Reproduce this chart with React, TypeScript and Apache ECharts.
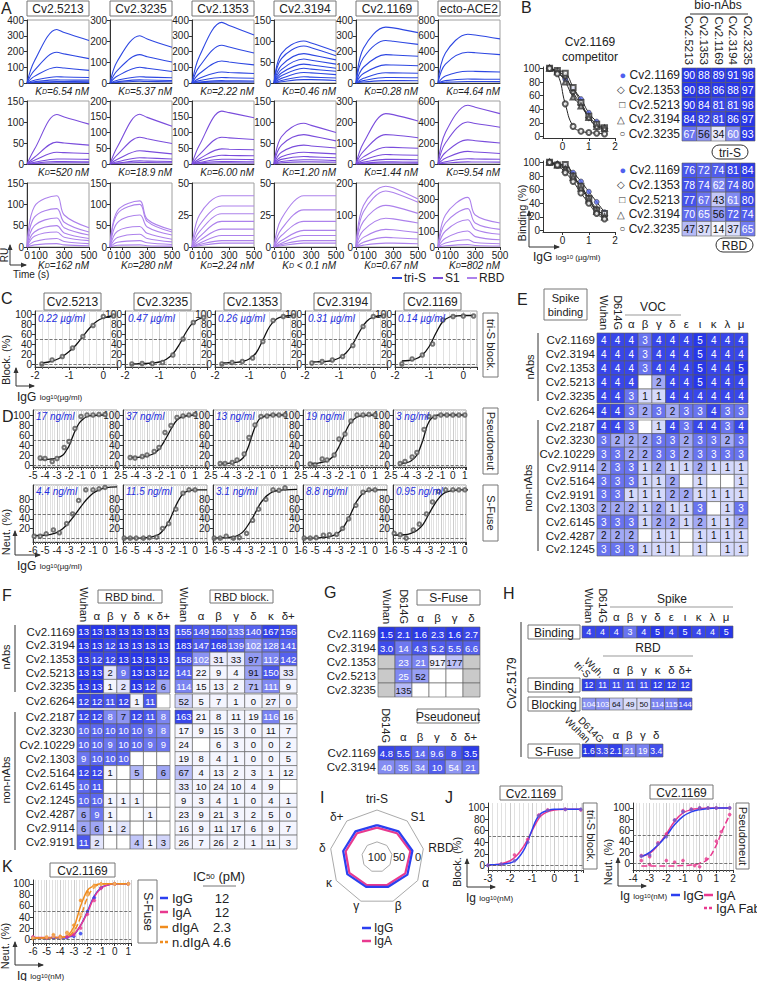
import React, { useEffect, useRef } from "react";
import * as echarts from "echarts";

const FONT = "'Liberation Sans', Arial, Helvetica, sans-serif";
const NA = -1;
const BLUE = "#2b3ff0";
const PINK = "#e8398f";
const ORANGE = "#f08c1e";

// ---------------- Panel A (SPR) ----------------
const sprTitles = ["Cv2.5213", "Cv2.3235", "Cv2.1353", "Cv2.3194", "Cv2.1169", "ecto-ACE2"];
const sprStart = 0;
const sprTimes = [0, 60, 240, 300, 500];
const sprTimeTicks = [0, 100, 300, 500];
const sprYMax = [[400, 300, 400, 150, 400, 800], [150, 200, 200, 150, 300, 600], [150, 150, 50, 50, 200, 400]];
const sprYStep = [[100, 100, 100, 50, 100, 200], [50, 50, 50, 50, 100, 200], [50, 50, 25, 25, 100, 100]];
const kdTriS = ["=6.54 nM", "=5.37 nM", "=2.22 nM", "=0.46 nM", "=0.28 nM", "=4.64 nM"];
const kdS1 = ["=520 nM", "=18.9 nM", "=6.00 nM", "=1.20 nM", "=1.44 nM", "=9.54 nM"];
const kdRBD = ["=162 nM", "=280 nM", "=2.24 nM", " < 0.1 nM", "=0.67 nM", "=802 nM"];
// each curve: RU at t = 60, 240, 300, 500 s
const sprTriS = [
  [[140, 340, 320, 270], [80, 195, 185, 155], [42, 100, 95, 80], [17, 40, 38, 35], [8, 20, 19, 18], [4, 10, 9, 8], [2, 5, 5, 4]],
  [[105, 225, 210, 170], [60, 135, 125, 100], [33, 75, 70, 55], [13, 30, 28, 25], [6, 15, 14, 12], [3, 8, 7, 6]],
  [[170, 385, 365, 305], [105, 240, 228, 190], [60, 140, 133, 115], [30, 70, 67, 60], [15, 35, 33, 30], [6, 15, 14, 13], [3, 7, 7, 6]],
  [[70, 100, 95, 75], [58, 88, 84, 65], [42, 70, 67, 55], [32, 57, 54, 45], [24, 45, 43, 35], [17, 35, 33, 28], [11, 25, 24, 20], [6, 15, 14, 12], [3, 8, 8, 6]],
  [[220, 355, 350, 320], [160, 270, 265, 245], [100, 180, 178, 170], [60, 115, 114, 110], [30, 65, 64, 62], [15, 35, 35, 33], [6, 15, 15, 14]],
  [[380, 620, 610, 560], [240, 390, 385, 360], [90, 150, 148, 140], [30, 50, 49, 48], [10, 20, 20, 18]],
];
const sprS1 = [
  [[35, 118, 112, 95], [16, 52, 50, 45], [9, 28, 27, 25], [4, 12, 12, 11], [2, 6, 6, 5], [1, 3, 3, 3]],
  [[55, 158, 148, 120], [30, 85, 80, 65], [15, 42, 40, 32], [7, 20, 19, 16], [3, 10, 9, 8], [2, 5, 5, 4]],
  [[60, 168, 163, 147], [30, 85, 83, 78], [17, 48, 47, 45], [10, 28, 27, 26], [5, 15, 15, 14], [3, 8, 8, 7], [1, 4, 4, 3]],
  [[65, 97, 92, 75], [45, 70, 67, 55], [28, 45, 43, 38], [17, 28, 27, 24], [11, 18, 17, 15], [6, 10, 10, 8], [3, 5, 5, 4]],
  [[100, 240, 235, 205], [60, 140, 138, 125], [34, 80, 79, 75], [19, 45, 44, 42], [9, 22, 22, 20], [4, 10, 10, 9], [2, 5, 5, 4]],
  [[300, 560, 540, 480], [200, 400, 385, 350], [110, 230, 222, 200], [55, 120, 115, 100], [22, 50, 48, 45], [8, 20, 19, 18]],
];
const sprRBD = [
  [[95, 120, 75, 45], [70, 90, 58, 35], [50, 68, 45, 28], [35, 50, 33, 20], [25, 35, 23, 15], [13, 20, 13, 8], [5, 8, 5, 3]],
  [[85, 108, 65, 40], [78, 100, 60, 35], [57, 75, 47, 28], [37, 48, 32, 18], [22, 30, 20, 12], [11, 15, 10, 6], [4, 5, 3, 2]],
  [[25, 40, 40, 40], [17, 32, 32, 32], [12, 26, 26, 26], [8, 20, 20, 20], [5, 14, 14, 14], [3, 9, 9, 9], [2, 5, 5, 5], [1, 3, 3, 3]],
  [[22, 40, 40, 40], [14, 29, 29, 29], [9, 20, 20, 20], [5, 13, 13, 13], [3, 9, 9, 9], [2, 5, 5, 5], [1, 3, 3, 3]],
  [[130, 190, 185, 150], [110, 175, 170, 140], [80, 130, 127, 105], [52, 90, 88, 75], [30, 55, 54, 45], [15, 30, 29, 25], [6, 12, 12, 10]],
  [[200, 310, 200, 150], [150, 240, 150, 110], [100, 170, 110, 80], [55, 100, 65, 45], [25, 45, 28, 20], [8, 15, 9, 6]],
];

// ---------------- Panel B ----------------
const bX = [-0.5, -0.2, 0.1, 0.4, 0.7, 1.0, 1.3, 1.6];
const bCompetitors = ["Cv2.1169", "Cv2.1353", "Cv2.5213", "Cv2.3194", "Cv2.3235"];
const bSymbolsText = ["●", "◇", "□", "△", "○"];
const bSymbols = ["circle", "emptyDiamond", "emptyRect", "emptyTriangle", "emptyCircle"];
const bTriSCurves = [
  [100, 93, 84, 70, 55, 35, 22, 12], [100, 95, 88, 65, 47, 28, 15, 12], [100, 97, 93, 72, 50, 30, 18, 13],
  [100, 95, 80, 58, 45, 28, 15, 12], [100, 92, 48, 15, 8, 6, 5, 4],
];
const bRBDCurves = [
  [100, 98, 95, 85, 72, 57, 42, 27], [100, 97, 93, 80, 65, 48, 32, 22], [100, 96, 97, 80, 65, 47, 30, 25],
  [100, 96, 90, 78, 62, 45, 28, 20], [100, 96, 85, 72, 55, 40, 25, 17],
];
const bHeatCols = ["Cv2.5213", "Cv2.1353", "Cv2.1169", "Cv2.3194", "Cv2.3235"];
const bHeatTriS = [[90, 88, 89, 91, 98], [90, 88, 86, 88, 97], [90, 84, 81, 81, 98], [84, 82, 81, 86, 97], [67, 56, 34, 60, 93]];
const bHeatRBD = [[76, 72, 74, 81, 84], [78, 74, 62, 74, 80], [77, 67, 43, 61, 80], [70, 65, 56, 72, 74], [47, 37, 14, 37, 65]];

// ---------------- Panel C ----------------
const cTitles = ["Cv2.5213", "Cv2.3235", "Cv2.1353", "Cv2.3194", "Cv2.1169"];
const cIC50 = ["0.22 µg/ml", "0.47 µg/ml", "0.26 µg/ml", "0.31 µg/ml", "0.14 µg/ml"];
const cDoseX = [-1.8, -1.5, -1.2, -0.9, -0.6, -0.3, 0, 0.3];
const cPoints = [
  [0, 8, 15, 32, 55, 77, 95, 96], [0, 1, 1, 3, 18, 50, 83, 93], [0, 3, 5, 12, 45, 87, 95, 96],
  [2, 5, 8, 15, 37, 75, 95, 96], [0, 10, 18, 40, 88, 95, 96, 96],
];
const cFitX = [-1.8, -1.6, -1.4, -1.2, -1.0, -0.8, -0.6, -0.4, -0.2, 0, 0.3];
const cFit = [
  [2, 4, 8, 15, 25, 38, 55, 72, 85, 92, 97], [0, 0.5, 1, 2, 4, 9, 20, 40, 65, 83, 94], [2, 2.5, 3, 5, 10, 22, 48, 75, 90, 95, 97],
  [4, 4.5, 5, 7, 12, 22, 40, 65, 85, 94, 97], [6, 7, 10, 18, 35, 62, 85, 94, 96, 97, 97],
];

// ---------------- Panel D ----------------
const dIC50Top = ["17 ng/ml", "37 ng/ml", "13 ng/ml", "19 ng/ml", "3 ng/ml"];
const dIC50Bot = ["4.4 ng/ml", "11.5 ng/ml", "3.1 ng/ml", "8.8 ng/ml", "0.95 ng/ml"];
const dTopX = [-4.4, -4.0, -3.4, -3.0, -2.4, -2.0, -1.5, -1.0, -0.5, 0, 0.5, 1.0];
const dTopPts = [
  [14, 13, 7, 13, 35, 47, 73, 97, 100, 100, 101, 101], [15, 14, 17, 20, 27, 35, 65, 79, 95, 98, 100, 101],
  [3, 3, 5, 10, 22, 55, 80, 97, 98, 100, 100, 100], [2, 0, 12, 10, 20, 52, 62, 88, 100, 100, 101, 100],
  [3, 7, 16, 25, 71, 97, 96, 100, 100, 100, 100, 100],
];
const dTopFitX = [-4.4, -4, -3.5, -3, -2.5, -2.2, -2, -1.8, -1.5, -1.2, -1, -0.5, 0, 1];
const dTopFit = [
  [11, 11, 12, 14, 20, 30, 38, 50, 68, 82, 88, 97, 99, 100], [15, 15, 16, 18, 22, 27, 32, 38, 50, 63, 72, 90, 97, 100],
  [3, 3, 4, 6, 14, 28, 40, 55, 76, 90, 94, 99, 100, 100], [3, 3, 5, 8, 17, 28, 37, 47, 64, 79, 86, 96, 99, 100],
  [3, 4, 8, 20, 50, 75, 86, 93, 98, 100, 100, 100, 100, 100],
];
const dBotX = [-5.9, -5.4, -4.9, -4.3, -3.8, -3.2, -2.7, -2.2, -1.6, -1.0, -0.5, 0];
const dBotPts = [
  [4, 4, 9, 17, 11, 30, 50, 78, 100, 100, 102, 105], [0, 0, 0, 0, 1, 2, 20, 30, 60, 93, 100, 100],
  [0, 0, 4, 0, 1, 10, 37, 60, 80, 100, 99, 104], [0, 0, 1, 6, 7, 8, 20, 40, 68, 95, 100, 100],
  [10, 7, 0, 17, 29, 50, 75, 97, 100, 100, 100, 100],
];
const dBotFitX = [-6, -5, -4.5, -4, -3.5, -3, -2.7, -2.4, -2.1, -1.8, -1.5, -1, -0.5, 0, 1];
const dBotFit = [
  [5, 6, 8, 12, 20, 33, 42, 52, 62, 72, 81, 93, 100, 104, 106], [0, 0, 0, 1, 3, 8, 15, 25, 38, 55, 72, 92, 98, 100, 100],
  [0, 1, 2, 5, 13, 30, 42, 56, 70, 80, 88, 96, 99, 100, 101], [0, 0, 1, 2, 5, 12, 20, 32, 46, 62, 77, 93, 99, 100, 100],
  [6, 7, 10, 16, 28, 50, 63, 75, 85, 92, 96, 99, 100, 100, 100],
];

// ---------------- Panel E ----------------
const eCols = ["Wuhan", "D614G", "α", "β", "γ", "δ", "ε", "ι", "κ", "λ", "μ"];
const eRowsNAbs = ["Cv2.1169", "Cv2.3194", "Cv2.1353", "Cv2.5213", "Cv2.3235"];
const eRowsMid = ["Cv2.6264"];
const eRowsNon = ["Cv2.2187", "Cv2.3230", "Cv2.10229", "Cv2.9114", "Cv2.5164", "Cv2.9191", "Cv2.1303", "Cv2.6145", "Cv2.4287", "Cv2.1245"];
const eNAbs = [
  [4, 4, 4, 3, 4, 4, 4, 5, 4, 4, 4], [4, 4, 4, 3, 4, 4, 4, 5, 4, 4, 4], [4, 4, 4, 3, 4, 4, 4, 5, 4, 4, 5],
  [4, 4, 4, null, 2, 4, 4, 5, 4, 4, 4], [4, 4, 3, 1, 1, 4, 4, 4, 4, 4, 4],
];
const eMid = [[4, 4, 3, 2, 3, 2, 3, 3, 4, 3, 3]];
const eNon = [
  [4, 4, 3, null, 1, 4, 3, 4, 4, 3, 4], [3, 2, 2, 2, 3, 3, 2, 3, 3, 2, 3], [3, 3, 2, 2, 3, 3, 2, 3, 3, 3, 3],
  [2, 3, 3, 1, 2, 1, 1, 2, 1, 1, 1], [3, 3, 3, 1, 1, 2, null, 1, null, null, 1], [3, 3, 1, 1, 1, 2, 2, 1, 1, 1, 1],
  [2, 2, 2, 1, 2, 1, 1, 3, null, 1, 3], [3, 3, 3, 1, 2, 2, 1, 2, 1, 1, 2], [2, 2, 2, null, 1, 1, null, 1, 1, 1, 1],
  [3, 3, 3, 1, 1, 1, null, 1, null, 1, 1],
];

// ---------------- Panel F ----------------
const fCols = ["Wuhan", "α", "β", "γ", "δ", "κ", "δ+"];
const fRowsNAbs = ["Cv2.1169", "Cv2.3194", "Cv2.1353", "Cv2.5213", "Cv2.3235"];
const fRowsMid = ["Cv2.6264"];
const fRowsNon = ["Cv2.2187", "Cv2.3230", "Cv2.10229", "Cv2.1303", "Cv2.5164", "Cv2.6145", "Cv2.1245", "Cv2.4287", "Cv2.9114", "Cv2.9191"];
const fBindNAbs = [
  [13, 13, 13, 13, 13, 13, 13], [13, 13, 12, 13, 13, 13, 13], [13, 12, 12, 13, 13, 13, 13],
  [13, 13, 2, 9, 13, 13, 12], [13, 13, 1, 2, 13, 12, 6],
];
const fBindMid = [[12, 12, 11, 12, 1, 11, null]];
const fBindNon = [
  [12, 12, 8, 7, 12, 11, 8], [10, 10, 10, 10, 10, 9, 8], [10, 10, 9, 10, 10, 9, 9], [9, 10, 10, 10, null, null, null],
  [12, 12, 1, null, 5, null, 6], [10, 11, null, null, null, null, null], [10, 10, 1, 1, 1, null, null],
  [6, 9, 1, null, null, 1, null], [6, 6, 1, 2, null, null, null], [11, 2, null, null, 4, 1, 3],
];
const fBlockNAbs = [
  [155, 149, 150, 133, 140, 167, 156], [183, 147, 168, 139, 102, 128, 141], [158, 102, 31, 33, 97, 112, 142],
  [141, 22, 9, 4, 91, 150, 33], [114, 15, 13, 2, 71, 111, 9],
];
const fBlockMid = [[52, 5, 7, 1, 0, 27, 0]];
const fBlockNon = [
  [163, 21, 8, 11, 19, 116, 16], [17, 9, 15, 3, 0, 11, 7], [24, null, 6, 3, 0, 0, 2], [19, 8, 4, 1, 0, 0, 5],
  [67, 4, 13, 2, 3, 1, 12], [33, 10, 24, 10, 4, 9, null], [9, 3, 4, 1, 0, 4, 1], [23, 9, 21, 3, 2, 5, 0],
  [16, 9, 11, 17, 6, 9, 7], [26, 7, 26, 2, 1, 11, 3],
];

// ---------------- Panel G ----------------
const gSCols = ["Wuhan", "D614G", "α", "β", "γ", "δ"];
const gSRows = ["Cv2.1169", "Cv2.3194", "Cv2.1353", "Cv2.5213", "Cv2.3235"];
const gSFuse = [
  [1.5, 2.1, 1.6, 2.3, 1.6, 2.7], [3.0, 14, 4.3, 5.2, 5.5, 6.6], [NA, 23, 21, 917, 177, NA],
  [NA, 25, 52, null, null, NA], [NA, 135, null, null, null, NA],
];
const gPCols = ["D614G", "α", "β", "γ", "δ", "δ+"];
const gPRows = ["Cv2.1169", "Cv2.3194"];
const gPseudo = [[4.8, 5.5, 14, 9.6, 8, 3.5], [40, 35, 34, 10, 54, 21]];

// ---------------- Panel H ----------------
const hSpikeCols = ["Wuhan", "D614G", "α", "β", "γ", "δ", "ε", "ι", "κ", "λ", "μ"];
const hSpike = [[4, 4, 4, 3, 4, 5, 4, 5, 4, 4, 5]];
const hRbdCols = ["tri-S", "Wuh.", "α", "β", "γ", "κ", "δ", "δ+"];
const hRbdBind = [[12, 11, 11, 11, 11, 12, 12, 12]];
const hRbdBlock = [[104, 103, 64, 49, 50, 114, 115, 144]];
const hSCols = ["Wuhan", "D614G", "α", "β", "γ", "δ"];
const hSFuse = [[1.6, 3.3, 2.1, 21, 19, 3.4]];

// ---------------- Panel I ----------------
const radarAxes = ["tri-S", "S1", "RBD", "α", "β", "γ", "κ", "δ", "δ+"];
const radarIgG = [22, 18, 12, 14, 22, 22, 16, 16, 18];
const radarIgA = [28, 24, 17, 20, 27, 27, 22, 22, 24];
const radarInner = [63, 63, 63, 63, 63, 63, 63, 63, 63];

// ---------------- Panel J ----------------
const jLeftX = [-3, -2.5, -2, -1.7, -1.4, -1.2, -1, -0.8, -0.6, -0.3, 0, 0.5, 1.2];
const jLeftIgG = [1, 1.5, 4, 10, 25, 42, 62, 80, 90, 95, 97, 97, 97];
const jLeftIgA = [1, 2, 8, 17, 32, 45, 60, 75, 86, 93, 96, 97, 97];
const jLeftPtsX = [-3, -2.4, -1.8, -1.2, -0.7, -0.3, 0.5, 1.2];
const jLeftPtsIgG = [0, 2, 8, 40, 86, 95, 97, 97];
const jLeftPtsIgA = [0, 2, 18, 45, 87, 96, 97, 96];
const jRightX = [-3.5, -3, -2.5, -2, -1.5, -1, -0.5, 0, 0.5, 1, 1.8];
const jRightIgG = [12, 20, 33, 50, 70, 85, 93, 97, 99, 100, 100];
const jRightIgA = [13, 18, 33, 53, 76, 91, 97, 99, 100, 100, 100];
const jRightFabX = [-3.5, -2, -1, -0.5, 0, 0.5, 1, 1.3, 1.6, 1.8];
const jRightFab = [-5, -5, -4, -3, 0, 8, 33, 55, 75, 87];
const jRightPtsIgG = [13, 15, 35, 48, 78, 93, 97, 100, 100, 100, 100];
const jRightPtsIgA = [14, 12, 37, 53, 78, 95, 98, 100, 100, 100, 100];
const jRightPtsFabX = [-3.5, -3, -2, -1.5, -1, -0.3, 0, 0.4, 1, 1.3, 1.8];
const jRightPtsFab = [5, -2, 5, 2, 5, -4, -6, 8, 40, 57, 88];

// ---------------- Panel K ----------------
const kX = [-6, -4, -3.5, -3, -2.5, -2, -1.5, -1, -0.5, 0, 1];
const kIgG = [2, 2, 3, 8, 25, 50, 78, 93, 98, 100, 100];
const kIgA = [3, 3, 4, 9, 25, 48, 76, 92, 98, 100, 100];
const kdIgA = [2, 3, 6, 22, 60, 88, 97, 100, 100, 100, 100];
const knIgA = [2, 3, 5, 14, 40, 75, 94, 99, 100, 100, 100];
const kPtsX = [-6, -5, -4.5, -4, -3.5, -3, -2.5, -2, -1.5, -1, 0, 1];
const kPtsIgG = [3, 2, 3, 2, 3, 5, 10, 50, 75, 93, 100, 100];
const kPtsIgA = [4, 2, 5, 3, 4, 8, 20, 45, 70, 92, 100, 100];
const kPtsD = [1, 3, 8, 5, 12, 25, 70, 85, 97, 100, 100, 100];
const kPtsN = [2, 4, 5, 2, 10, 15, 45, 80, 95, 99, 100, 100];
const kLegend = ["IgG", "IgA", "dIgA", "n.dIgA"];
const kIC50 = ["12", "12", "2.3", "4.6"];

// ---------------- helpers ----------------
const HI = [40, 55, 232];
const LO = [244, 245, 254];
function blend(t: number) {
  t = Math.max(0, Math.min(1, t));
  const c = HI.map((h, i) => Math.round(LO[i] + (h - LO[i]) * t));
  return `rgb(${c.join(",")})`;
}
const logT = (v: number, best: number, worst: number) => 1 - Math.log10(v / best) / Math.log10(worst / best);
const eLevel = [0, 0.15, 0.4, 0.68, 0.92, 1];

function buildOption(): any {
  const grid: any[] = [];
  const xAxis: any[] = [];
  const yAxis: any[] = [];
  const series: any[] = [];
  const graphic: any[] = [];

  const addGrid = (left: number, top: number, width: number, height: number, extra: any = {}) => {
    grid.push({ left, top, width, height, containLabel: false, backgroundColor: "transparent", ...extra });
    return grid.length - 1;
  };

  function plot(o: any) {
    const g = addGrid(o.left, o.top, o.width, o.height, o.frame ? { show: true, borderColor: "#a0a0a0", borderWidth: 1 } : {});
    const xi = xAxis.length;
    const yi = yAxis.length;
    const xc = o.xCustom ? { customValues: o.xCustom } : {};
    const yc = o.yCustom ? { customValues: o.yCustom } : {};
    xAxis.push({
      type: "value", gridIndex: g, min: o.xmin, max: o.xmax, interval: o.xInterval,
      axisLine: { show: true, onZero: false, lineStyle: { color: "#333", width: 1 } },
      axisTick: { show: o.xTicks !== false, length: 3, lineStyle: { color: "#333" }, ...xc },
      axisLabel: { show: o.xLabels !== false, fontSize: 10, color: "#222", margin: 3, fontFamily: FONT, showMaxLabel: o.showMaxX, ...xc },
      minorTick: { show: !!o.stripes, splitNumber: 5, length: 2, lineStyle: { color: "#666" } },
      splitLine: { show: !!o.stripes, lineStyle: { color: "#cdcdcd" } },
      minorSplitLine: { show: !!o.stripes, lineStyle: { color: "#e1e1e1" } },
    });
    yAxis.push({
      type: "value", gridIndex: g, min: o.ymin, max: o.ymax, interval: o.yInterval,
      axisLine: { show: true, onZero: false, lineStyle: { color: "#333", width: 1 } },
      axisTick: { show: true, length: 3, lineStyle: { color: "#333" }, ...yc },
      axisLabel: { show: true, fontSize: 10, color: "#222", margin: 3, fontFamily: FONT, ...yc },
      splitLine: { show: false },
    });
    return { xi, yi };
  }

  function line(ax: any, xs: number[], ys: number[], color: string, o: any = {}) {
    series.push({
      type: "line", xAxisIndex: ax.xi, yAxisIndex: ax.yi, data: xs.map((x, i) => [x, ys[i]]),
      smooth: o.smooth ?? 0.4, symbol: "none", silent: true, z: o.z ?? 3,
      lineStyle: { color, width: o.width ?? 1.2, type: o.dash ? "dashed" : "solid" },
      markLine: o.refs
        ? { silent: true, symbol: ["none", "none"], label: { show: false }, lineStyle: { type: "dashed", color: "#555", width: 0.8 }, data: o.refs.map((v: number) => ({ yAxis: v })) }
        : undefined,
    });
  }
  function pts(ax: any, xs: number[], ys: number[], o: any = {}) {
    series.push({
      type: "scatter", xAxisIndex: ax.xi, yAxisIndex: ax.yi, data: xs.map((x, i) => [x, ys[i]]),
      symbol: o.symbol ?? "emptyCircle", symbolSize: o.size ?? 3.5, silent: true, z: 4,
      itemStyle: { color: o.color ?? "#555", borderColor: o.border ?? o.color ?? "#555", borderWidth: o.bw ?? 0.7 },
    });
  }

  function heat(o: any) {
    const g = addGrid(o.left, o.top, o.width, o.height);
    const xi = xAxis.length;
    const rot: number[] = o.rotCols || [];
    const showCols = o.showCols !== false;
    xAxis.push({
      type: "category", gridIndex: g, data: o.cols, position: "top",
      axisLine: { show: false }, axisTick: { show: false }, splitLine: { show: false },
      axisLabel: { show: showCols, interval: 0, fontSize: o.colFont ?? 11, color: "#222", margin: 3, formatter: (v: string, i: number) => (rot.includes(i) ? "" : v) },
    });
    xAxis.push({
      type: "category", gridIndex: g, data: o.cols, position: "top",
      axisLine: { show: false }, axisTick: { show: false }, splitLine: { show: false },
      axisLabel: { show: showCols && rot.length > 0, interval: 0, rotate: o.rotAngle ?? 90, fontSize: o.rotFont ?? 11, color: "#222", margin: 3, formatter: (v: string, i: number) => (rot.includes(i) ? v : "") },
    });
    const yi = yAxis.length;
    yAxis.push({
      type: "category", gridIndex: g, data: o.rows, inverse: true,
      axisLine: { show: false }, axisTick: { show: false }, splitLine: { show: false },
      axisLabel: { show: o.showRows !== false, interval: 0, fontSize: o.rowFont ?? 11.5, color: "#222", margin: 2, formatter: o.rowFmt, rich: o.rowRich },
    });
    const fmt = o.fmt || ((v: number) => String(v));
    const cells: any[] = [];
    o.data.forEach((row: (number | null)[], r: number) =>
      row.forEach((v, c) => {
        if (v === null) cells.push({ c, r, v: 0, fill: "#ffffff", text: "", tc: "#111" });
        else if (v === NA) cells.push({ c, r, v: 0, fill: "#c9c9c9", text: "", tc: "#111" });
        else {
          const t = o.tfn(v);
          cells.push({ c, r, v, fill: blend(t), text: fmt(v), tc: t > 0.5 ? "#fff" : "#111" });
        }
      })
    );
    const vf = o.valFont ?? 9;
    series.push({
      type: "custom", xAxisIndex: xi, yAxisIndex: yi, silent: true, z: 3,
      data: cells.map((k) => [k.c, k.r, k.v]),
      renderItem: (params: any, api: any) => {
        const k = cells[params.dataIndex];
        const p = api.coord([api.value(0), api.value(1)]);
        const s = api.size([1, 1]);
        return {
          type: "rect",
          shape: { x: p[0] - s[0] / 2, y: p[1] - s[1] / 2, width: s[0], height: s[1] },
          style: { fill: k.fill, stroke: "#5a5a5a", lineWidth: 0.6 },
          textContent: { style: { text: k.text, fill: k.tc, fontSize: vf, fontFamily: FONT } },
          textConfig: { position: "inside" },
        };
      },
    });
  }

  // graphic helpers
  const T = (x: number, y: number, text: string, o: any = {}) =>
    graphic.push({
      type: "text", x, y, rotation: o.rot || 0, silent: true, z: 50,
      style: {
        text, fontSize: o.size ?? 12, fontFamily: FONT, fill: o.color ?? "#222",
        fontStyle: o.italic ? "italic" : "normal", fontWeight: o.bold ? "bold" : "normal",
        align: o.align ?? "left", verticalAlign: o.va ?? "middle", textAlign: o.align ?? "left", textVerticalAlign: o.va ?? "middle",
        rich: o.rich,
      },
    });
  const R = (x: number, y: number, w: number, h: number, o: any = {}) =>
    graphic.push({ type: "rect", shape: { x, y, width: w, height: h, r: o.r ?? 0 }, silent: true, z: 49, style: { fill: o.fill ?? "none", stroke: o.stroke ?? "#777", lineWidth: o.lw ?? 1 } });
  const L = (x1: number, y1: number, x2: number, y2: number, o: any = {}) =>
    graphic.push({ type: "line", shape: { x1, y1, x2, y2 }, silent: true, z: 49, style: { stroke: o.color ?? "#333", lineWidth: o.lw ?? 1, lineDash: o.dash } });
  const box = (x: number, y: number, w: number, h: number, text: string, size = 12) => {
    R(x, y, w, h);
    T(x + w / 2, y + h / 2 + 0.5, text, { align: "center", size });
  };
  const vbox = (x: number, y: number, w: number, h: number, text: string, size = 12) => {
    R(x, y, w, h);
    T(x + w / 2 + 0.5, y + h / 2, text, { align: "center", size, rot: -Math.PI / 2 });
  };
  const arrows = (x0: number, y0: number, up: number, right: number) => {
    L(x0, y0, x0, y0 - up);
    L(x0, y0, x0 + right, y0);
    graphic.push({ type: "polygon", silent: true, z: 49, shape: { points: [[x0 - 2.5, y0 - up + 5], [x0 + 2.5, y0 - up + 5], [x0, y0 - up - 1]] }, style: { fill: "#333" } });
    graphic.push({ type: "polygon", silent: true, z: 49, shape: { points: [[x0 + right - 5, y0 - 2.5], [x0 + right - 5, y0 + 2.5], [x0 + right + 1, y0]] }, style: { fill: "#333" } });
  };
  const unitRich = { a: { fontSize: 12, fontFamily: FONT, fill: "#222" }, s: { fontSize: 8, fontFamily: FONT, fill: "#222" }, t: { fontSize: 6, fontFamily: FONT, fill: "#222" } };
  const kdRich = { k: { fontSize: 10, fontStyle: "italic", fontFamily: FONT, fill: "#222" }, d: { fontSize: 7, fontStyle: "italic", fontFamily: FONT, fill: "#222" } };

  // ---------- Panel letters ----------
  [["A", 1, 8], ["B", 521, 7], ["C", 1, 298], ["D", 2, 416], ["E", 517, 299], ["F", 2, 595], ["G", 324, 592], ["H", 503, 593], ["I", 320, 797], ["J", 445, 797], ["K", 2, 866]].forEach(
    ([l, x, y]: any) => T(x, y, l, { size: 16 })
  );

  // ---------- Panel A ----------
  const aLeft = [27, 110, 192, 274, 356, 438];
  const aTop = [20, 101, 183];
  const aH = [63, 63, 64];
  const aColors = ["#2d47e2", "#7a4ddc", "#ad82ec"];
  const aData = [sprTriS, sprS1, sprRBD];
  const aKD = [kdTriS, kdS1, kdRBD];
  sprTitles.forEach((t, i) => box(aLeft[i], 1, 62, 15, t, 12));
  for (let r = 0; r < 3; r++) {
    for (let c = 0; c < 6; c++) {
      const ax = plot({
        left: aLeft[c], top: aTop[r], width: 62, height: aH[r], frame: true,
        xmin: 0, xmax: 500, xCustom: sprTimeTicks, xLabels: r === 2, xTicks: r === 2,
        ymin: 0, ymax: sprYMax[r][c], yInterval: sprYStep[r][c],
      });
      aData[r][c].forEach((cv) => line(ax, sprTimes, [sprStart, ...cv], aColors[r], { smooth: 0.35, width: 1.1 }));
      const ky = aTop[r] + aH[r] + (r === 2 ? 18 : 8);
      T(aLeft[c] + 62, ky, `{k|K}{d|D}{k|${aKD[r][c]}}`, { align: "right", rich: kdRich });
    }
  }
  T(4, 255, "RU", { rot: Math.PI / 2, size: 10, align: "center" });
  arrows(10, 265, 20, 16);
  T(13, 274, "Time (s)", { size: 10 });
  L(392, 278, 402, 278, { color: aColors[0], lw: 2 });
  T(404, 278, "tri-S", { size: 12 });
  L(433, 278, 443, 278, { color: aColors[1], lw: 2 });
  T(445, 278, "S1", { size: 12 });
  L(467, 278, 477, 278, { color: aColors[2], lw: 2 });
  T(479, 278, "RBD", { size: 12 });

  // ---------- Panel B ----------
  T(590, 42, "Cv2.1169", { align: "center", size: 12 });
  T(590, 57, "competitor", { align: "center", size: 12 });
  const bTops = [67, 161];
  [bTriSCurves, bRBDCurves].forEach((curves, k) => {
    const ax = plot({ left: 543, top: bTops[k], width: 72, height: 71, xmin: -0.75, xmax: 2, xCustom: [0, 1, 2], ymin: -2, ymax: 102, yCustom: [0, 20, 40, 60, 80, 100] });
    curves.forEach((cv, i) => {
      line(ax, bX, cv, "#222", { smooth: 0.5, width: 1 });
      pts(ax, bX, cv, i === 0 ? { symbol: "circle", color: "#5566ee", border: "#333", size: 5 } : { symbol: bSymbols[i], color: "#333", size: 5 });
    });
  });
  T(522, 213, "Binding (%)", { rot: Math.PI / 2, size: 11, align: "center" });
  arrows(529, 247, 36, 30);
  T(533, 257, "{a|IgG }{s|log}{t|10}{s| (µg/ml)}", { rich: unitRich });
  T(718, 5, "bio-nAbs", { align: "center", size: 12 });
  L(690, 14, 748, 14);
  const bRich: any = { s0: { color: "#5060ee", fontSize: 11 } };
  [1, 2, 3, 4].forEach((i) => (bRich["s" + i] = { color: "#333", fontSize: 10 }));
  const bRowFmt = (v: string, i: number) => `{s${i}|${bSymbolsText[i]}} ${v}`;
  heat({ left: 682, top: 68, width: 73, height: 73, cols: bHeatCols, rotCols: [0, 1, 2, 3, 4], rows: bCompetitors, data: bHeatTriS, tfn: (v: number) => (v - 30) / 55, valFont: 10.5, rowFont: 12, rowFmt: bRowFmt, rowRich: bRich, rotFont: 11.5 });
  heat({ left: 682, top: 163, width: 73, height: 73, cols: bHeatCols, showCols: false, rows: bCompetitors, data: bHeatRBD, tfn: (v: number) => (v - 30) / 55, valFont: 10.5, rowFont: 12, rowFmt: bRowFmt, rowRich: bRich });
  R(712, 145, 36, 14, { r: 7, stroke: "#333" });
  T(730, 152.5, "tri-S", { align: "center", size: 12 });
  R(716, 238, 37, 14, { r: 7, stroke: "#333" });
  T(734.5, 245.5, "RBD", { align: "center", size: 12 });

  // ---------- Panel C ----------
  const cy = [0, 20, 40, 60, 80, 100];
  for (let i = 0; i < 5; i++) {
    const left = 35 + 90 * i;
    box(44 + 90 * i, 293, 57, 17, cTitles[i], 12);
    const ax = plot({ left, top: 311, width: 82, height: 56, frame: true, stripes: true, xmin: -2, xmax: 0.4, xInterval: 1, showMaxX: false, ymin: -6, ymax: 106, yCustom: cy });
    line(ax, cFitX, cFit[i], "#111", { smooth: 0.4, width: 1.3, refs: [50, 0] });
    pts(ax, cDoseX, cPoints[i]);
    T(left + 3, 318, cIC50[i], { italic: true, color: "#1f2fe0", size: 10 });
  }
  vbox(483, 313, 15, 64, "tri-S block.", 11);
  T(6, 360, "Block. (%)", { rot: Math.PI / 2, size: 11, align: "center" });
  arrows(16, 386, 18, 18);
  T(17, 397, "{a|IgG }{s|log}{t|10}{s|(µg/ml)}", { rich: unitRich });

  // ---------- Panel D ----------
  for (let i = 0; i < 5; i++) {
    const left = 33 + 90 * i;
    const last = i === 4;
    const axT = plot({ left, top: 410, width: last ? 73 : 84, height: 57, frame: true, stripes: true, xmin: -5, xmax: last ? 1.1 : 2, xInterval: 1, showMaxX: !last, ymin: -4, ymax: 110, yCustom: cy });
    line(axT, dTopFitX, dTopFit[i], "#111", { smooth: 0.4, width: 1.3, refs: [50, 0] });
    pts(axT, dTopX, dTopPts[i]);
    T(left + 3, 416, dIC50Top[i], { italic: true, color: "#1f2fe0", size: 10 });
    const axB = plot({ left, top: 485, width: last ? 73 : 84, height: 57, frame: true, stripes: true, xmin: -6, xmax: last ? 0.1 : 1, xInterval: 1, showMaxX: !last, ymin: -8, ymax: 110, yCustom: cy });
    line(axB, dBotFitX, dBotFit[i], "#111", { smooth: 0.4, width: 1.3, refs: [50, 0] });
    pts(axB, dBotX, dBotPts[i]);
    T(left + 3, 491, dIC50Bot[i], { italic: true, color: "#1f2fe0", size: 10 });
  }
  vbox(483, 408, 15, 66, "Pseudoneut", 11);
  vbox(483, 485, 15, 56, "S-Fuse", 11);
  T(6, 532, "Neut. (%)", { rot: Math.PI / 2, size: 11, align: "center" });
  arrows(15, 555, 24, 25);
  T(17, 566, "{a|IgG }{s|log}{t|10}{s|(µg/ml)}", { rich: unitRich });

  // ---------- Panel E ----------
  const tE = (v: number) => eLevel[v];
  heat({ left: 597, top: 333, width: 151, height: 70, cols: eCols, rotCols: [0, 1], rows: eRowsNAbs, data: eNAbs, tfn: tE, valFont: 10, rowFont: 11.5, colFont: 11.5 });
  heat({ left: 597, top: 404, width: 151, height: 14, cols: eCols, showCols: false, rows: eRowsMid, data: eMid, tfn: tE, valFont: 10, rowFont: 11.5 });
  heat({ left: 597, top: 420, width: 151, height: 136, cols: eCols, showCols: false, rows: eRowsNon, data: eNon, tfn: tE, valFont: 10, rowFont: 11.5 });
  R(544, 289, 43, 31);
  T(565.5, 298, "Spike", { align: "center", size: 11 });
  T(565.5, 312, "binding", { align: "center", size: 11 });
  T(653, 307, "VOC", { align: "center", size: 12 });
  L(625, 315, 681, 315, { color: "#999" });
  T(530, 367, "nAbs", { rot: Math.PI / 2, size: 11, align: "center" });
  L(538, 333, 538, 401);
  T(528, 488, "non-nAbs", { rot: Math.PI / 2, size: 11, align: "center" });
  L(538, 420, 538, 551);

  // ---------- Panel F ----------
  const tFb = (v: number) => (v - 1) / 12;
  const tFk = (v: number) => (v - 25) / 150;
  heat({ left: 77, top: 625, width: 93, height: 68, cols: fCols, rotCols: [0], rows: fRowsNAbs, data: fBindNAbs, tfn: tFb, valFont: 9.5, colFont: 11.5 });
  heat({ left: 77, top: 694, width: 93, height: 14, cols: fCols, showCols: false, rows: fRowsMid, data: fBindMid, tfn: tFb, valFont: 9.5 });
  heat({ left: 77, top: 710, width: 93, height: 139, cols: fCols, showCols: false, rows: fRowsNon, data: fBindNon, tfn: tFb, valFont: 9.5 });
  heat({ left: 175, top: 625, width: 122, height: 68, cols: fCols, rotCols: [0], rows: fRowsNAbs, showRows: false, data: fBlockNAbs, tfn: tFk, valFont: 9.5, colFont: 11.5 });
  heat({ left: 175, top: 694, width: 122, height: 14, cols: fCols, showCols: false, showRows: false, rows: fRowsMid, data: fBlockMid, tfn: tFk, valFont: 9.5 });
  heat({ left: 175, top: 710, width: 122, height: 139, cols: fCols, showCols: false, showRows: false, rows: fRowsNon, data: fBlockNon, tfn: tFk, valFont: 9.5 });
  box(98, 590, 64, 13, "RBD bind.", 11);
  box(210, 590, 63, 13, "RBD block.", 11);
  T(6, 657, "nAbs", { rot: Math.PI / 2, size: 11, align: "center" });
  L(15, 625, 15, 692);
  T(6, 780, "non-nAbs", { rot: Math.PI / 2, size: 11, align: "center" });
  L(15, 712, 15, 850);

  // ---------- Panel G ----------
  const dec = (v: number) => (v < 10 ? v.toFixed(1) : String(v));
  heat({ left: 378, top: 627, width: 102, height: 70, cols: gSCols, rotCols: [0, 1], rows: gSRows, data: gSFuse, tfn: (v: number) => logT(v, 1.5, 1000), fmt: dec, valFont: 9.5, colFont: 11.5 });
  heat({ left: 378, top: 746, width: 101, height: 28, cols: gPCols, rotCols: [0], rows: gPRows, data: gPseudo, tfn: (v: number) => logT(v, 3, 1000), valFont: 9.5, colFont: 11.5 });
  box(417, 590, 63, 15, "S-Fuse", 12);
  box(417, 709, 62, 14, "Pseudoneut", 12);

  // ---------- Panel H ----------
  heat({ left: 582, top: 626, width: 151, height: 12, cols: hSpikeCols, rotCols: [0, 1], rows: ["Binding"], showRows: false, data: hSpike, tfn: tE, valFont: 9, colFont: 11.5 });
  heat({ left: 582, top: 679, width: 110, height: 12, cols: hRbdCols, rotCols: [0, 1], rotAngle: 45, rotFont: 10, rows: ["Binding"], showRows: false, data: hRbdBind, tfn: (v: number) => v / 12.5, valFont: 8.5, colFont: 11.5 });
  heat({ left: 582, top: 698, width: 110, height: 12, cols: hRbdCols, showCols: false, rows: ["Blocking"], showRows: false, data: hRbdBlock, tfn: (v: number) => (v - 30) / 140, valFont: 8 });
  heat({ left: 582, top: 744, width: 81, height: 13, cols: hSCols, rotCols: [0, 1], rotAngle: 45, rotFont: 10, rows: ["S-Fuse"], showRows: false, data: hSFuse, tfn: (v: number) => logT(v, 1.5, 1000), fmt: dec, valFont: 8.5, colFont: 11.5 });
  T(672, 599, "Spike", { align: "center", size: 12 });
  L(610, 607, 733, 607, { color: "#999" });
  box(528, 625, 52, 14, "Binding", 12);
  T(648, 648, "RBD", { align: "center", size: 12 });
  L(603, 656, 693, 656, { color: "#999" });
  box(528, 678, 52, 14, "Binding", 12);
  box(528, 697, 52, 14, "Blocking", 12);
  box(528, 744, 52, 14, "S-Fuse", 12);
  T(512, 683, "Cv2.5179", { rot: Math.PI / 2, size: 12, align: "center" });
  L(521, 622, 521, 757);

  // ---------- Panel I (radar) ----------
  const order = [0, ...radarAxes.map((_, i) => i).slice(1).reverse()];
  const radar = [{
    center: [377, 857], radius: 47, startAngle: 90, splitNumber: 1, shape: "polygon",
    indicator: order.map((i) => ({ name: radarAxes[i], min: 0, max: 115 })),
    axisName: { color: "#222", fontSize: 12, fontFamily: FONT }, nameGap: 5,
    splitLine: { lineStyle: { color: "#aaa", width: 1 } }, splitArea: { show: false },
    axisLine: { show: false }, axisTick: { show: false }, axisLabel: { show: false },
  }];
  const inv = (arr: number[]) => order.map((i) => 100 - arr[i]);
  series.push({
    type: "radar", radarIndex: 0, silent: true, symbol: "none", z: 5,
    data: [
      { value: inv(radarInner), lineStyle: { color: "#aaa", width: 1 }, itemStyle: { color: "#aaa" } },
      { value: inv(radarIgA), lineStyle: { color: PINK, width: 2.2 }, itemStyle: { color: PINK } },
      { value: inv(radarIgG), lineStyle: { color: BLUE, width: 2.2 }, itemStyle: { color: BLUE } },
    ],
  });
  T(377, 857, "100", { align: "center", size: 11 });
  T(399, 857, "50", { align: "center", size: 11 });
  T(418, 857, "0", { align: "center", size: 11 });
  L(362, 928, 371, 928, { color: BLUE, lw: 2.5 });
  T(374, 928, "IgG", { size: 12 });
  L(362, 941, 371, 941, { color: PINK, lw: 2.5 });
  T(374, 941, "IgA", { size: 12 });

  // ---------- Panel J ----------
  const axJ1 = plot({ left: 488, top: 803, width: 95, height: 67, stripes: true, xmin: -3, xmax: 1.3, xInterval: 1, showMaxX: false, ymin: -8, ymax: 108, yCustom: cy });
  line(axJ1, jLeftX, jLeftIgA, PINK, { width: 1.5, refs: [50, 0] });
  line(axJ1, jLeftX, jLeftIgG, BLUE, { width: 1.5 });
  pts(axJ1, jLeftPtsX, jLeftPtsIgA, { symbol: "circle", color: PINK, size: 3 });
  pts(axJ1, jLeftPtsX, jLeftPtsIgG, { symbol: "circle", color: "#6a5acd", size: 3 });
  box(500, 786, 62, 14, "Cv2.1169", 12);
  vbox(583, 803, 14, 66, "tri-S block.", 11);
  T(457, 862, "Block. (%)", { rot: Math.PI / 2, size: 11, align: "center" });
  arrows(467, 887, 28, 28);
  T(466, 898, "{a|Ig }{s|log}{t|10}{s|(nM)}", { rich: unitRich });

  const axJ2 = plot({ left: 633, top: 803, width: 100, height: 67, stripes: true, xmin: -4, xmax: 2, xInterval: 1, ymin: -12, ymax: 109, yCustom: cy });
  line(axJ2, jRightX, jRightIgA, PINK, { width: 1.5, refs: [50, 0] });
  line(axJ2, jRightX, jRightIgG, BLUE, { width: 1.5 });
  line(axJ2, jRightFabX, jRightFab, PINK, { width: 1.5, dash: true });
  pts(axJ2, jRightX, jRightPtsIgA, { symbol: "circle", color: PINK, size: 3 });
  pts(axJ2, jRightX, jRightPtsIgG, { symbol: "circle", color: "#6a5acd", size: 3 });
  pts(axJ2, jRightPtsFabX, jRightPtsFab, { symbol: "circle", color: PINK, size: 3 });
  box(650, 785, 63, 14, "Cv2.1169", 12);
  vbox(736, 803, 13, 66, "Pseudoneut", 11);
  T(608, 862, "Neut. (%)", { rot: Math.PI / 2, size: 11, align: "center" });
  arrows(618, 886, 28, 28);
  T(620, 896, "{a|Ig }{s|log}{t|10}{s|(nM)}", { rich: unitRich });
  L(671, 895, 680, 895, { color: BLUE, lw: 2.5 });
  T(683, 895, "IgG", { size: 13 });
  L(704, 895, 713, 895, { color: PINK, lw: 2.5 });
  T(716, 895, "IgA", { size: 13 });
  L(704, 908, 713, 908, { color: PINK, lw: 2.5, dash: [3, 2] });
  T(716, 908, "IgA Fab", { size: 13 });

  // ---------- Panel K ----------
  const axK = plot({ left: 33, top: 880, width: 98, height: 63, stripes: true, xmin: -6, xmax: 1.2, xInterval: 1, showMaxX: false, ymin: -7, ymax: 107, yCustom: cy });
  line(axK, kX, kIgG, BLUE, { width: 1.5, refs: [50, 0] });
  line(axK, kX, kIgA, PINK, { width: 1.5 });
  line(axK, kX, kdIgA, ORANGE, { width: 1.5 });
  line(axK, kX, knIgA, ORANGE, { width: 1.5, dash: true });
  pts(axK, kPtsX, kPtsIgG, { symbol: "circle", color: BLUE, size: 3 });
  pts(axK, kPtsX, kPtsIgA, { symbol: "circle", color: PINK, size: 3 });
  pts(axK, kPtsX, kPtsD, { symbol: "circle", color: ORANGE, size: 3 });
  pts(axK, kPtsX, kPtsN, { symbol: "circle", color: "#f5b060", size: 3 });
  box(50, 863, 65, 14, "Cv2.1169", 12);
  vbox(138, 880, 19, 63, "S-Fuse", 12);
  T(5, 946, "Neut. (%)", { rot: Math.PI / 2, size: 11, align: "center" });
  arrows(15, 965, 23, 28);
  T(17, 976, "{a|Ig }{s|log}{t|10}{s|(nM)}", { rich: unitRich });
  const kCols = [BLUE, PINK, ORANGE, ORANGE];
  const kYs = [898, 912, 927, 942];
  kLegend.forEach((n, i) => {
    L(160, kYs[i], 168, kYs[i], { color: kCols[i], lw: 2.5, dash: i === 3 ? [3, 2] : undefined });
    T(172, kYs[i], n, { size: 13 });
    T(222, kYs[i], kIC50[i], { size: 13, align: "center" });
  });
  T(219, 876, "{a|IC}{s|50}{a| (pM)}", { align: "center", rich: { a: { fontSize: 13, fontFamily: FONT, fill: "#222" }, s: { fontSize: 8, fontFamily: FONT, fill: "#222" } } });
  L(203, 886, 236, 886, { color: "#777" });

  return {
    animation: false,
    backgroundColor: "#fff",
    textStyle: { fontFamily: FONT },
    grid, xAxis, yAxis, series, graphic, radar,
  };
}

export default function App() {
  const ref = useRef<HTMLDivElement | null>(null);
  useEffect(() => {
    if (!ref.current) return;
    const chart = echarts.init(ref.current, null, { renderer: "svg" });
    chart.setOption(buildOption());
    return () => chart.dispose();
  }, []);
  return <div ref={ref} style={{ position: "absolute", left: 0, top: 0, width: 757, height: 981, background: "#fff" }} />;
}
